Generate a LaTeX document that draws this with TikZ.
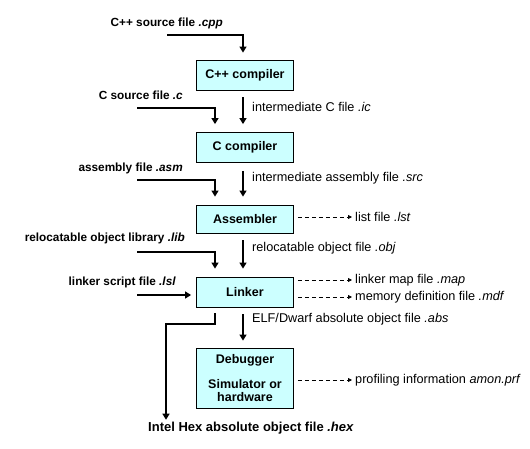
\documentclass[tikz,border=0pt]{standalone}
\usepackage{fontspec}
\setmainfont{Liberation Sans}
\usetikzlibrary{arrows.meta}
\definecolor{boxfill}{HTML}{CCFFFF}
\tikzset{
  toolbox/.style={draw=black, line width=0.8pt, fill=boxfill, minimum width=97pt,
    minimum height=30pt, inner sep=0pt, align=center, font=\fontsize{12.5}{13}\selectfont\bfseries},
  infile/.style={inner sep=0pt, font=\fontsize{11.8}{13}\selectfont\bfseries},
  outfile/.style={inner sep=0pt, anchor=west, font=\fontsize{12.7}{13}\selectfont},
  flow/.style={line width=1.2pt, -{Triangle[length=6pt,width=7pt]}},
  side/.style={line width=0.8pt, dash pattern=on 4pt off 3pt, -{Triangle[length=4pt,width=4pt]}},
}
\begin{document}
\begin{tikzpicture}[x=1pt,y=-1pt]
            \useasboundingbox (0,0) rectangle (530,449);

            % Tool boxes
            \node [toolbox] (cpp) at (245,75) {C++ compiler};
            \node [toolbox] (cc) at (245,147.5) {C compiler};
            \node [toolbox, minimum height=28pt] (asm) at (245,219) {Assembler};
            \node [toolbox] (linker) at (245,292) {Linker};
            \node [toolbox, minimum height=60pt] (debug) at (245,378) {Debugger\\[12pt]Simulator or\\hardware};

            % Input files
            \node [infile, anchor=east] (cppsrc) at (223,23) {C++ source file \textit{.cpp}};
            \node [infile, anchor=east] (csrc) at (183,95) {C source file \textit{.c}};
            \node [infile, anchor=east] (asmsrc) at (183,168) {assembly file \textit{.asm}};
            \node [infile, anchor=east] (libsrc) at (185,238) {relocatable object library \textit{.lib}};
            \node [infile, anchor=east] (lslsrc) at (176,282) {linker script file \textit{.lsl}};
            \node [infile, font=\fontsize{13}{13}\selectfont\bfseries] (hex) at (251,428) {Intel Hex absolute object file \textit{.hex}};

            % Output files
            \node [outfile] (ic) at (252,107) {intermediate C file \textit{.ic}};
            \node [outfile] (src) at (252,178) {intermediate assembly file \textit{.src}};
            \node [outfile] (lst) at (355,217) {list file \textit{.lst}};
            \node [outfile] (obj) at (252,248) {relocatable object file \textit{.obj}};
            \node [outfile] (map) at (355,280) {linker map file \textit{.map}};
            \node [outfile] (mdf) at (355,297) {memory definition file \textit{.mdf}};
            \node [outfile] (abs) at (252,319) {ELF/Dwarf absolute object file \textit{.abs}};
            \node [outfile] (prf) at (355,380) {profiling information \textit{amon.prf}};

            % Line starts
            \coordinate (cppin) at (167,35);
            \coordinate (cin) at (137,108);
            \coordinate (asmin) at (137,180);
            \coordinate (libin) at (137,252);
            \coordinate (lslin) at (137,295);
            \coordinate (hexbend) at (166,324);

            % Drawing main flow
            \draw [flow] (cppin) -| ([xshift=-2pt,yshift=7pt]cpp.north);
            \draw [flow] ([xshift=-2pt,yshift=-7pt]cpp.south) -- ([xshift=-2pt,yshift=8pt]cc.north);
            \draw [flow] ([xshift=-2pt,yshift=-8pt]cc.south) -- ([xshift=-2pt,yshift=8pt]asm.north);
            \draw [flow] ([xshift=-2pt,yshift=-7pt]asm.south) -- ([xshift=-2pt,yshift=8pt]linker.north);
            \draw [flow] ([xshift=-2pt,yshift=-7pt]linker.south) -- ([xshift=-2pt,yshift=7pt]debug.north);

            % Drawing side inputs
            \draw [flow] (cin) -| ([xshift=-30pt,yshift=8pt]cc.north);
            \draw [flow] (asmin) -| ([xshift=-30pt,yshift=8pt]asm.north);
            \draw [flow] (libin) -| ([xshift=-30pt,yshift=8pt]linker.north);
            \draw [flow, shorten >=5pt] (lslin) -- (lslin -| linker.west);

            % Drawing hex output
            \draw [flow, shorten >=2pt] ([xshift=-30pt,yshift=-6pt]linker.south) |- (hexbend) -- (hexbend |- hex.north);

            % Drawing side outputs
            \draw [side, shorten <=4pt, shorten >=3pt] (asm.east |- lst.west) -- (lst.west);
            \draw [side, shorten <=4pt, shorten >=3pt] (linker.east |- map.west) -- (map.west);
            \draw [side, shorten <=4pt, shorten >=3pt] (linker.east |- mdf.west) -- (mdf.west);
            \draw [side, shorten <=4pt, shorten >=3pt] (debug.east |- prf.west) -- (prf.west);
        \end{tikzpicture}
\end{document}
